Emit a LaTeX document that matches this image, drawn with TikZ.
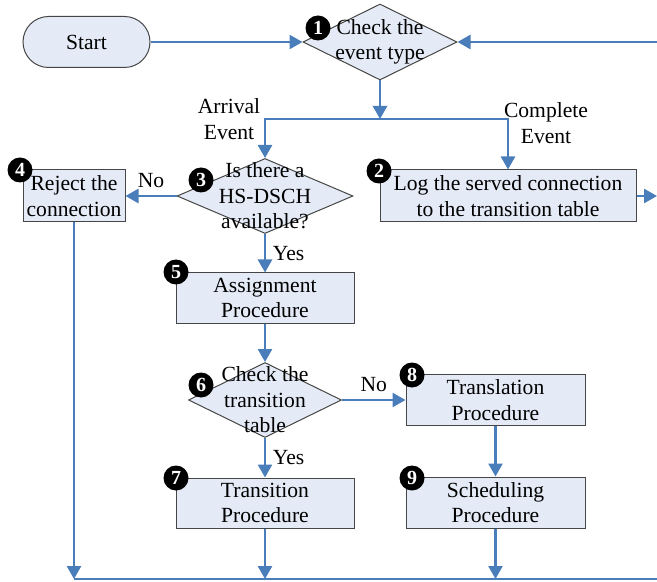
\documentclass[tikz,border=0pt]{standalone}
\usepackage{fontspec}
\setmainfont{Liberation Serif}
\usetikzlibrary{shapes.geometric,arrows.meta}
\definecolor{flowblue}{RGB}{74,126,187}
\definecolor{boxfill}{RGB}{228,234,246}
\definecolor{boxline}{RGB}{70,70,70}
\tikzset{
  procbox/.style={draw=boxline,fill=boxfill,line width=0.5pt,align=center,inner sep=0pt},
  decision/.style={diamond,draw=boxline,fill=boxfill,line width=0.5pt,inner sep=0pt},
  badge/.style={circle,fill=black,text=white,inner sep=0pt,minimum size=12.5pt,font=\fontsize{10}{10}\selectfont\bfseries},
  flow/.style={draw=flowblue,line width=1.3pt,-{Triangle[length=6.5pt,width=7pt]}},
  line/.style={draw=flowblue,line width=1.3pt},
  lbl/.style={align=center}
}
\begin{document}
\begin{tikzpicture}[x=0.5pt,y=-0.5pt,font=\fontsize{10.8}{12.8}\selectfont]
	\useasboundingbox (0,0) rectangle (657,582);
	% boxes and decisions
	\node[procbox,rounded corners=12.75pt,minimum width=63.5pt,minimum height=25.5pt] (start) at (86.5,42) {Start};
	\node[decision,minimum width=77pt,minimum height=38pt,label={[lbl]center:Check the\\event type}] (check) at (380,42) {};
	\node[decision,minimum width=88pt,minimum height=37.5pt,label={[lbl]center:Is there a\\HS-DSCH\\available?}] (avail) at (265,196) {};
	\node[procbox,minimum width=51pt,minimum height=26pt] (reject) at (74,196) {Reject the\\connection};
	\node[procbox,minimum width=128pt,minimum height=26pt] (log) at (508,196) {Log the served connection\\to the transition table};
	\node[procbox,minimum width=89pt,minimum height=25pt] (assign) at (265,298) {Assignment\\Procedure};
	\node[decision,minimum width=76.5pt,minimum height=37.5pt,label={[lbl]center:Check the\\transition\\table}] (table) at (265,400) {};
	\node[procbox,minimum width=89pt,minimum height=25pt] (transit) at (265,503) {Transition\\Procedure};
	\node[procbox,minimum width=89.5pt,minimum height=25.5pt] (transl) at (495.5,400) {Translation\\Procedure};
	\node[procbox,minimum width=89.5pt,minimum height=25.5pt] (sched) at (495.5,502.5) {Scheduling\\Procedure};

	% step numbers
	\node[badge] (b1) at (318,28) {1};
	\node[badge] (b2) at (379,171) {2};
	\node[badge] (b3) at (201,180) {3};
	\node[badge] (b4) at (20,170) {4};
	\node[badge] (b5) at (176,272) {5};
	\node[badge] (b6) at (201,385) {6};
	\node[badge] (b7) at (176,478) {7};
	\node[badge] (b8) at (412,375) {8};
	\node[badge] (b9) at (412,478) {9};

	\node[lbl] (arrival) at (229,119) {Arrival\\Event};
	\node[lbl] (complete) at (546,123) {Complete\\Event};

	\coordinate (split) at (380,119);
	\coordinate (loopin) at (657,42);
	\coordinate (logout) at (657,196);
	\coordinate (baseL) at (73,579);
	\coordinate (baseR) at (657,579);

	% connectors
	\draw[flow] (start.east) -- (check.west);
	\draw[flow] (loopin) -- (check.east);
	\draw[flow] (check.south) -- (split);
	\draw[flow] (split) -| (avail.north);
	\draw[flow] (split) -| (log.north);
	\draw[flow] (avail.west) -- node[above] {No} (reject.east);
	\draw[flow] (avail.south) -- node[right] {Yes} (assign.north);
	\draw[flow] (log.east) -- (logout);
	\draw[flow] (assign.south) -- (table.north);
	\draw[flow] (table.east) -- node[above] {No} (transl.west);
	\draw[flow] (table.south) -- node[right] {Yes} (transit.north);
	\draw[flow] (transl.south) -- (sched.north);
	\draw[flow] (reject.south) -- (reject.south |- baseL);
	\draw[flow] (transit.south) -- (transit.south |- baseL);
	\draw[flow] (sched.south) -- (sched.south |- baseL);
	\draw[line] (reject.south |- baseL) -- (baseR);
\end{tikzpicture}
\end{document}
